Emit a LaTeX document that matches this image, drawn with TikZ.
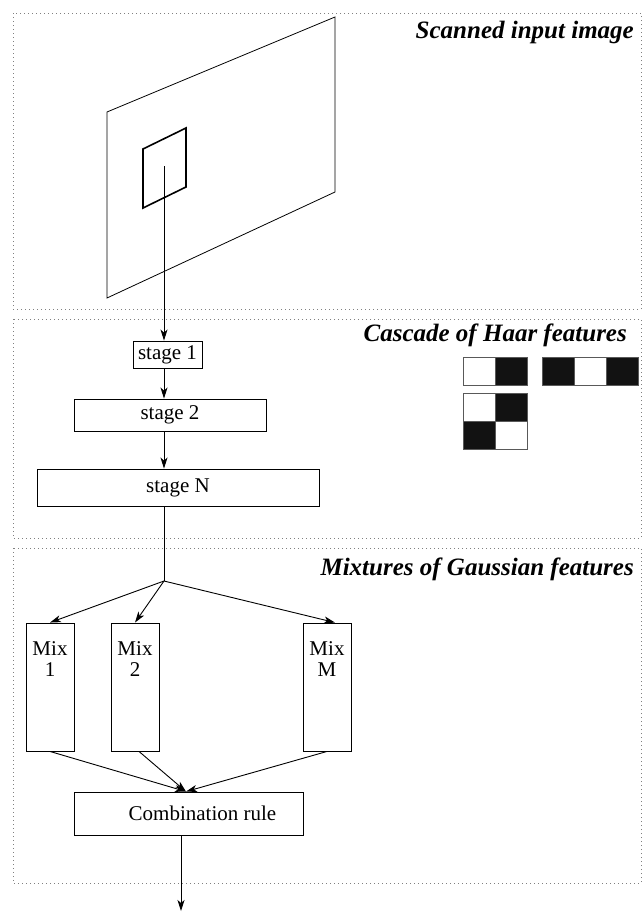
\documentclass[tikz,border=0pt]{standalone}
\usepackage{fontspec}
\setmainfont{Liberation Serif}
\usetikzlibrary{arrows.meta,calc}
\begin{document}
\begin{tikzpicture}[x=1pt,y=-1pt,
  every node/.style={font=\fontsize{21}{21}\selectfont},
  box/.style={draw, line width=0.9pt, inner sep=0pt},
  conn/.style={line width=0.9pt},
  arr/.style={conn,-{Stealth[length=11pt,width=7pt,inset=3pt]}},
  section/.style={draw=gray, line width=0.9pt, dash pattern=on 1pt off 3pt},
  title/.style={anchor=base east, inner sep=0pt, font=\fontsize{25}{30}\selectfont\bfseries\itshape},
  haar/.style={draw=gray!70!black, line width=0.8pt},
  mixlabel/.style={anchor=north, align=center, inner sep=0pt, yshift=-19pt}
]
\useasboundingbox (0,0) rectangle (644,913);

% section frames
\draw[section] (13,13) rectangle (641,309);
\draw[section] (13,319) rectangle (641,538);
\draw[section] (13,548) rectangle (641,883);

% titles
\node[title] (t1) at (634,38) {Scanned input image};
\node[title] (t2) at (627,341) {Cascade of Haar features};
\node[title] (t3) at (634,575) {Mixtures of Gaussian features};

% scanned image
\draw[line width=0.8pt] (107,112) -- (335,17) -- (335,192) -- (107,298) -- cycle;
\draw[line width=1.6pt] (143,149) -- (186,128) -- (186,187) -- (143,208) -- cycle;
\coordinate (src) at (164,166);

% cascade stages
\node[box, minimum width=69pt, minimum height=27pt] (s1) at (167.5,354.5) {stage 1};
\node[box, minimum width=192pt, minimum height=32pt] (s2) at (170,415) {stage 2};
\node[box, minimum width=282pt, minimum height=37pt] (sN) at (178,487.5) {stage N};

\draw[arr] (src) -- (src |- s1.north);
\draw[arr] (src |- s1.south) -- (src |- s2.north);
\draw[arr] (src |- s2.south) -- (src |- sN.north);
\coordinate (fork) at (164,581);
\draw[conn] (src |- sN.south) -- (fork);

% Haar features
\fill[black!93] (495,357) rectangle (527,385);
\draw[haar] (463,357) rectangle (527,385) (495,357) -- (495,385);
\fill[black!93] (542,357) rectangle (574,385);
\fill[black!93] (606,357) rectangle (638,385);
\draw[haar] (542,357) rectangle (638,385) (574,357) -- (574,385) (606,357) -- (606,385);
\fill[black!93] (495,393) rectangle (527,421);
\fill[black!93] (463,421) rectangle (495,449);
\draw[haar] (463,393) rectangle (527,449) (495,393) -- (495,449) (463,421) -- (527,421);

% mixtures
\node[box, minimum width=48pt, minimum height=128pt, label={[mixlabel]north:Mix\\1}] (m1) at (50,687) {};
\node[box, minimum width=48pt, minimum height=128pt, label={[mixlabel]north:Mix\\2}] (m2) at (135,687) {};
\node[box, minimum width=48pt, minimum height=128pt, label={[mixlabel]north:Mix\\M}] (mM) at (327,687) {};

\draw[arr] (fork) -- (m1.north);
\draw[arr] (fork) -- (m2.north);
\draw[arr] (fork) -- ([xshift=8pt]mM.north);

\node[box, minimum width=229pt, minimum height=43pt] (comb) at (188.5,813.5) {\hspace*{28pt}Combination rule};
\coordinate (join) at ([xshift=-2.5pt]comb.north);
\draw[arr] (m1.south) -- (join);
\draw[arr] ([xshift=4pt]m2.south) -- (join);
\draw[arr] (mM.south) -- (join);

\coordinate (out) at (181,911);
\draw[arr] ([xshift=-7.5pt]comb.south) -- (out);
\end{tikzpicture}
\end{document}
